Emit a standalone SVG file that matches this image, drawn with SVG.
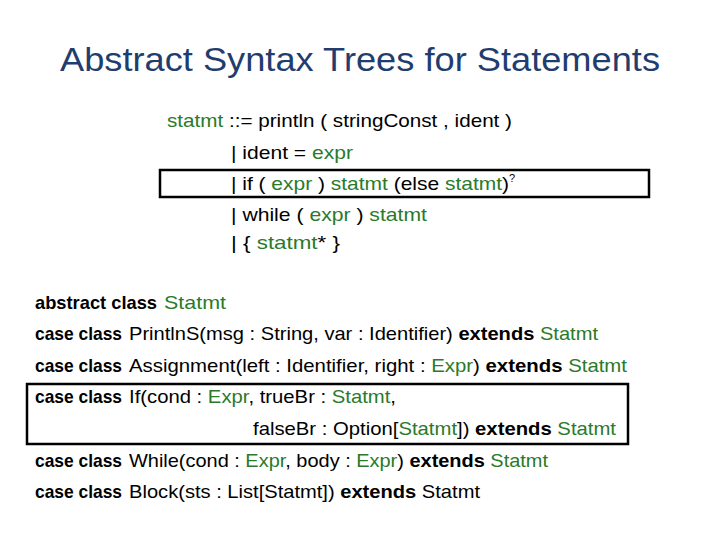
<svg xmlns="http://www.w3.org/2000/svg" width="720" height="540" viewBox="0 0 720 540">
<style>
text{font-family:"Liberation Sans",Arial,sans-serif;font-size:19px;fill:#000}
.g{fill:#2a7a2a}
.b{font-weight:bold}
.t{font-size:34px;fill:#1f3d6e}
.box{fill:none;stroke:#000;stroke-width:2.5}
</style>
<rect width="720" height="540" fill="#fff"/>
<text class="t" x="360" y="71" text-anchor="middle" textLength="600" lengthAdjust="spacingAndGlyphs">Abstract Syntax Trees for Statements</text>
<g id="grammar" xml:space="preserve">
<text x="167" y="127" textLength="345" lengthAdjust="spacingAndGlyphs"><tspan class="g">statmt</tspan> ::= println ( stringConst , ident )</text>
<text x="231" y="159" textLength="122" lengthAdjust="spacingAndGlyphs">| ident = <tspan class="g">expr</tspan></text>
<text x="231" y="190" textLength="278" lengthAdjust="spacingAndGlyphs">| if ( <tspan class="g">expr</tspan> ) <tspan class="g">statmt</tspan> (else <tspan class="g">statmt</tspan>)</text>
<text x="509" y="182" style="font-size:11px">?</text>
<text x="231" y="221" textLength="196" lengthAdjust="spacingAndGlyphs">| while ( <tspan class="g">expr</tspan> ) <tspan class="g">statmt</tspan></text>
<text x="231" y="249" textLength="109" lengthAdjust="spacingAndGlyphs">| { <tspan class="g">statmt</tspan>* }</text>
<rect class="box" x="160" y="170" width="489" height="27"/>
</g>
<g id="code" xml:space="preserve">
<text class="b" x="35" y="309" textLength="122" lengthAdjust="spacingAndGlyphs">abstract class</text>
<text x="164" y="309" class="g" textLength="62" lengthAdjust="spacingAndGlyphs">Statmt</text>
<text class="b" x="35" y="340" textLength="87" lengthAdjust="spacingAndGlyphs">case class</text>
<text x="129" y="340" textLength="469" lengthAdjust="spacingAndGlyphs">PrintlnS(msg : String, var : Identifier) <tspan class="b">extends</tspan> <tspan class="g">Statmt</tspan></text>
<text class="b" x="35" y="372" textLength="87" lengthAdjust="spacingAndGlyphs">case class</text>
<text x="129" y="372" textLength="498" lengthAdjust="spacingAndGlyphs">Assignment(left : Identifier, right : <tspan class="g">Expr</tspan>) <tspan class="b">extends</tspan> <tspan class="g">Statmt</tspan></text>
<text class="b" x="35" y="403" textLength="87" lengthAdjust="spacingAndGlyphs">case class</text>
<text x="129" y="403" textLength="267" lengthAdjust="spacingAndGlyphs">If(cond : <tspan class="g">Expr</tspan>, trueBr : <tspan class="g">Statmt</tspan>,</text>
<text x="253" y="435" textLength="363" lengthAdjust="spacingAndGlyphs">falseBr : Option[<tspan class="g">Statmt</tspan>]) <tspan class="b">extends</tspan> <tspan class="g">Statmt</tspan></text>
<text class="b" x="35" y="467" textLength="87" lengthAdjust="spacingAndGlyphs">case class</text>
<text x="129" y="467" textLength="419" lengthAdjust="spacingAndGlyphs">While(cond : <tspan class="g">Expr</tspan>, body : <tspan class="g">Expr</tspan>) <tspan class="b">extends</tspan> <tspan class="g">Statmt</tspan></text>
<text class="b" x="35" y="498" textLength="87" lengthAdjust="spacingAndGlyphs">case class</text>
<text x="129" y="498" textLength="351" lengthAdjust="spacingAndGlyphs">Block(sts : List[Statmt]) <tspan class="b">extends</tspan> Statmt</text>
<rect class="box" x="27" y="384" width="601" height="60"/>
</g>
</svg>
